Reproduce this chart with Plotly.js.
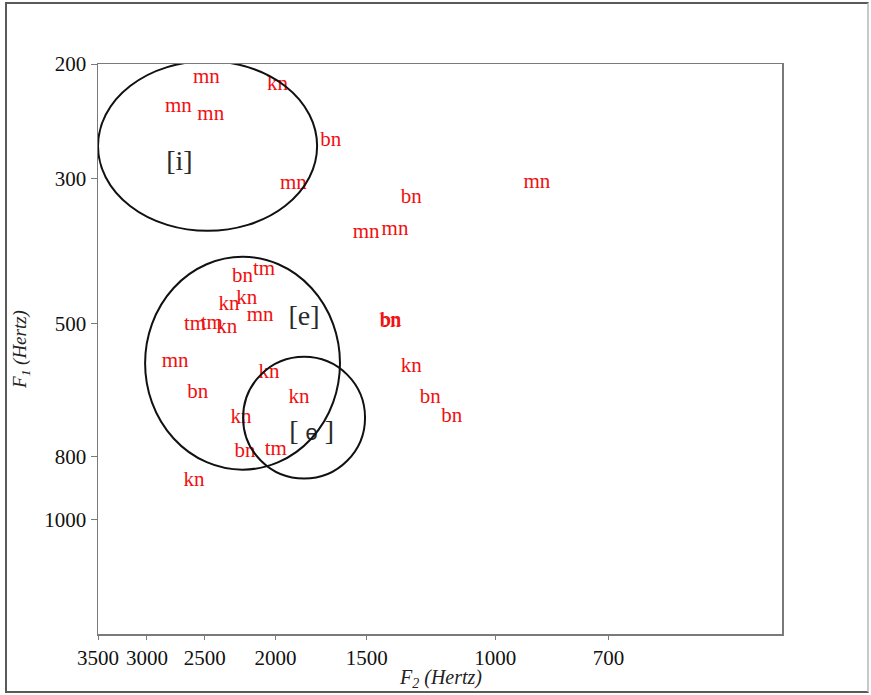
<!DOCTYPE html>
<html>
<head>
<meta charset="utf-8">
<script src="https://cdn.plot.ly/plotly-3.0.1.min.js"></script>
<style>
  html, body { margin: 0; padding: 0; background: #fff; }
  #wrap { position: relative; width: 871px; height: 695px; }
  #plot { position: absolute; left: 0; top: 0; width: 871px; height: 695px; }
  #frame { position: absolute; left: 5px; top: 2px; width: 860px; height: 687px;
           border: 2px solid #5a5a5a; border-right-color: #c8c8c8; pointer-events: none; }
</style>
</head>
<body>
<div id="wrap">
  <div id="plot"></div>
  <div id="frame"></div>
</div>
<script>
// Token labels (consonant context) with their formant values (Hz)
const labels = [
  'mn','kn','mn','mn','bn','mn',
  'bn','mn','mn','mn',
  'bn','bn','kn','bn','bn',
  'bn','tm','kn','kn','mn','tm','tm','kn',
  'mn','bn','kn','kn','kn','bn','tm','kn'
];
const f2 = [
  2487, 1988, 2717, 2453, 1680, 1890,
  1304, 877, 1503, 1372,
  1394, 1389, 1304, 1228, 1147,
  2220, 2073, 2315, 2189, 2099, 2577, 2445, 2332,
  2745, 2555, 2041, 1857, 2229, 2201, 1998, 2585
];
const f1 = [
  210, 215, 233, 239.5, 262, 305.6,
  320.7, 304.2, 363, 359.4,
  498, 496, 584, 651, 697,
  424, 414, 468.5, 459, 486.6, 502.8, 501, 508.7,
  573.7, 640, 595, 651, 699, 786.6, 782, 874
];

// Vowel category labels
const vowelText = ['[i]', '[e]', '[ <span style="font-family:\'Liberation Sans\'; font-size:22px">ɵ</span> ]'];
const vowelF2 = [2708, 1828, 1784];
const vowelF1 = [284, 490, 737];

// Vowel region ellipses (bounding boxes, Hz)
const ellF2a = [3500, 3017, 2215];
const ellF2b = [1754, 1632, 1508];
const ellF1a = [198, 395.4, 563];
const ellF1b = [360.7, 839, 866];

// Axis ticks
const xTickVals = [3500, 3000, 2500, 2000, 1500, 1000, 700];
const xTickText = ['3500', '3000', '2500', '2000', '1500', '1000', '700'];
const yTickVals = [200, 300, 500, 800, 1000];
const yTickText = ['200', '300', '500', '800', '1000'];

const serif = 'Liberation Serif, Times New Roman, serif';

const traces = [
  {
    type: 'scatter', mode: 'text',
    x: f2, y: f1, text: labels,
    textposition: 'middle center',
    textfont: { family: serif, size: 21, color: '#f01010' },
    cliponaxis: false, hoverinfo: 'skip', showlegend: false
  },
  {
    type: 'scatter', mode: 'text',
    x: vowelF2, y: vowelF1, text: vowelText,
    textposition: 'middle center',
    textfont: { family: serif, size: 28, color: '#2a2a2a' },
    cliponaxis: false, hoverinfo: 'skip', showlegend: false
  }
];

const shapes = ellF2a.map((v, i) => ({
  type: 'circle', xref: 'x', yref: 'y',
  x0: ellF2a[i], x1: ellF2b[i], y0: ellF1a[i], y1: ellF1b[i],
  line: { color: '#111111', width: 2 }, fillcolor: 'rgba(0,0,0,0)', layer: 'above'
}));

const axisCommon = {
  type: 'log',
  showgrid: false, zeroline: false,
  showline: true, mirror: true, linecolor: '#7a7a7a', linewidth: 1.5,
  ticks: 'outside', ticklen: 6, tickwidth: 1, tickcolor: '#7a7a7a',
  tickfont: { family: serif, size: 21, color: '#111111' },
  tickmode: 'array'
};

const layout = {
  width: 871, height: 695,
  margin: { l: 98, r: 89, t: 64, b: 61 },
  paper_bgcolor: '#ffffff', plot_bgcolor: '#ffffff',
  showlegend: false,
  xaxis: Object.assign({}, axisCommon, {
    range: [Math.log10(3500), Math.log10(405)],
    tickvals: xTickVals, ticktext: xTickText,
    ticklen: 4
  }),
  yaxis: Object.assign({}, axisCommon, {
    range: [Math.log10(1500), Math.log10(200)],
    tickvals: yTickVals, ticktext: yTickText,
    title: { text: '<i>F<sub>1</sub> (Hertz)</i>', font: { family: serif, size: 19, color: '#222222' }, standoff: 12 }
  }),
  annotations: [{
    xref: 'paper', yref: 'paper', x: 0.5, y: 0,
    xanchor: 'center', yanchor: 'top', yshift: -30,
    text: '<i>F<sub>2</sub> (Hertz)</i>', showarrow: false,
    font: { family: serif, size: 20, color: '#222222' }
  }],
  shapes: shapes
};

Plotly.newPlot('plot', traces, layout, { displayModeBar: false, staticPlot: true });
</script>
</body>
</html>
